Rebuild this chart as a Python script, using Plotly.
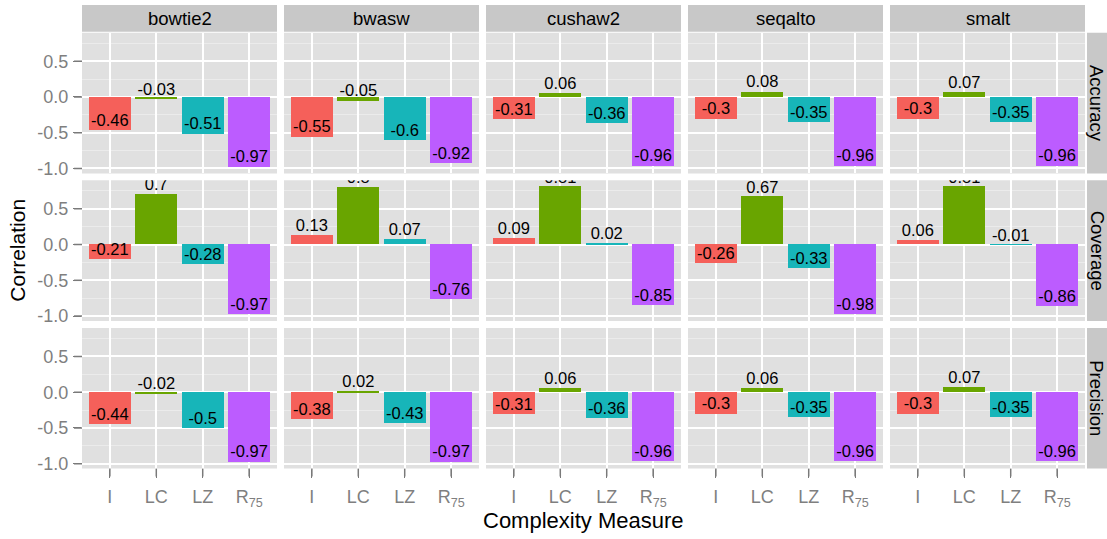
import plotly.graph_objects as go

# Correlation of each complexity measure with aligner performance
aligners = ["bowtie2", "bwasw", "cushaw2", "seqalto", "smalt"]
metrics = ["Accuracy", "Coverage", "Precision"]
measures = ["I", "LC", "LZ", "R<sub>75</sub>"]
bar_colors = ["#F5605A", "#69A500", "#17B5B9", "#BC5CFF"]
y_ticks = [-1.0, -0.5, 0.0, 0.5]
y_ticktext = ["-1.0", "-0.5", "0.0", "0.5"]

bowtie2_accuracy = [-0.46, -0.03, -0.51, -0.97]
bowtie2_coverage = [-0.21, 0.7, -0.28, -0.97]
bowtie2_precision = [-0.44, -0.02, -0.5, -0.97]

bwasw_accuracy = [-0.55, -0.05, -0.6, -0.92]
bwasw_coverage = [0.13, 0.8, 0.07, -0.76]
bwasw_precision = [-0.38, 0.02, -0.43, -0.97]

cushaw2_accuracy = [-0.31, 0.06, -0.36, -0.96]
cushaw2_coverage = [0.09, 0.81, 0.02, -0.85]
cushaw2_precision = [-0.31, 0.06, -0.36, -0.96]

seqalto_accuracy = [-0.3, 0.08, -0.35, -0.96]
seqalto_coverage = [-0.26, 0.67, -0.33, -0.98]
seqalto_precision = [-0.3, 0.06, -0.35, -0.96]

smalt_accuracy = [-0.3, 0.07, -0.35, -0.96]
smalt_coverage = [0.06, 0.81, -0.01, -0.86]
smalt_precision = [-0.3, 0.07, -0.35, -0.96]

values = {
    "bowtie2": [bowtie2_accuracy, bowtie2_coverage, bowtie2_precision],
    "bwasw": [bwasw_accuracy, bwasw_coverage, bwasw_precision],
    "cushaw2": [cushaw2_accuracy, cushaw2_coverage, cushaw2_precision],
    "seqalto": [seqalto_accuracy, seqalto_coverage, seqalto_precision],
    "smalt": [smalt_accuracy, smalt_coverage, smalt_precision],
}

W, H = 1107, 539
FONT = "Liberation Sans, Arial, Helvetica, sans-serif"
GREY_TXT = "#7F7F7F"
TICK_GREY = "#7A7A7A"
TICK_LEN = 8

# panel geometry in pixels
col_left0, col_w, gap = 82, 195, 7
row_top0, row_h = 33, 142
strip_top, strip_bottom = 5, 32
rstrip_left, rstrip_right = 1087, 1107

all_vals = [v for a in aligners for m in values[a] for v in m]
lo, hi = min(all_vals), max(all_vals)
pad = 0.05 * (hi - lo)
yrange = [lo - pad, hi + pad]
positions = [1, 2, 3, 4]

fig = go.Figure()
layout = {}
shapes = []
annotations = []

for r, metric in enumerate(metrics):
    top = row_top0 + r * (row_h + gap)
    bottom = top + row_h
    ydom = [1 - bottom / H, 1 - top / H]
    for c, aligner in enumerate(aligners):
        left = col_left0 + c * (col_w + gap)
        right = left + col_w
        xdom = [left / W, right / W]
        idx = r * len(aligners) + c + 1
        xname = "xaxis" if idx == 1 else f"xaxis{idx}"
        yname = "yaxis" if idx == 1 else f"yaxis{idx}"
        xref = "x" if idx == 1 else f"x{idx}"
        yref = "y" if idx == 1 else f"y{idx}"
        vals = values[aligner][r]

        fig.add_trace(go.Bar(
            x=positions, y=vals, width=0.9, xaxis=xref, yaxis=yref,
            marker=dict(color=bar_colors, line=dict(width=0)),
            showlegend=False, hoverinfo="skip",
        ))
        fig.add_trace(go.Scatter(
            x=positions, y=vals, xaxis=xref, yaxis=yref, mode="text",
            text=[f"{v:g}" for v in vals], textposition="top center",
            textfont=dict(family=FONT, size=16.5, color="black"),
            showlegend=False, hoverinfo="skip", cliponaxis=True,
        ))

        bottom_row = r == len(metrics) - 1
        left_col = c == 0
        layout[xname] = dict(
            domain=xdom, anchor=yref, range=[0.4, 4.6],
            tickvals=positions, ticktext=measures,
            showticklabels=bottom_row,
            ticks="outside" if bottom_row else "", ticklen=TICK_LEN,
            tickwidth=1, tickcolor=TICK_GREY, ticklabelstandoff=4,
            tickfont=dict(family=FONT, size=18, color=GREY_TXT),
            showgrid=True, gridcolor="white", gridwidth=1.5,
            zeroline=False, showline=False, fixedrange=True,
        )
        layout[yname] = dict(
            domain=ydom, anchor=xref, range=yrange,
            tickvals=y_ticks, ticktext=y_ticktext,
            showticklabels=left_col,
            ticks="outside" if left_col else "", ticklen=TICK_LEN,
            tickwidth=1, tickcolor=TICK_GREY, ticklabelstandoff=1,
            tickfont=dict(family=FONT, size=18, color=GREY_TXT),
            showgrid=True, gridcolor="white", gridwidth=1.5,
            minor=dict(tickvals=[-0.75, -0.25, 0.25, 0.75], showgrid=True,
                       gridcolor="#EBEBEB", gridwidth=1),
            zeroline=False, showline=False, fixedrange=True,
        )
        # panel background
        shapes.append(dict(
            type="rect", xref="paper", yref="paper", layer="below",
            x0=xdom[0], x1=xdom[1], y0=ydom[0], y1=ydom[1],
            fillcolor="#E0E0E0", line=dict(width=0),
        ))
        # tick marks along the outer panel edges
        if left_col:
            for tv in y_ticks:
                shapes.append(dict(
                    type="line", xref="paper", yref=yref, layer="above",
                    x0=(left - TICK_LEN) / W, x1=left / W, y0=tv, y1=tv,
                    line=dict(color=TICK_GREY, width=1.5),
                ))
        if bottom_row:
            for p in positions:
                shapes.append(dict(
                    type="line", xref=xref, yref="paper", layer="above",
                    x0=p, x1=p, y0=1 - bottom / H,
                    y1=1 - (bottom + TICK_LEN) / H,
                    line=dict(color=TICK_GREY, width=1.5),
                ))

        if r == 0:
            shapes.append(dict(
                type="rect", xref="paper", yref="paper", layer="below",
                x0=xdom[0], x1=xdom[1],
                y0=1 - strip_bottom / H, y1=1 - strip_top / H,
                fillcolor="#C8C8C8", line=dict(width=0),
            ))
            annotations.append(dict(
                text=aligner, xref="paper", yref="paper", showarrow=False,
                x=(xdom[0] + xdom[1]) / 2,
                y=1 - (strip_top + strip_bottom) / 2 / H,
                xanchor="center", yanchor="middle",
                font=dict(family=FONT, size=18.5, color="black"),
            ))

    shapes.append(dict(
        type="rect", xref="paper", yref="paper", layer="below",
        x0=rstrip_left / W, x1=rstrip_right / W, y0=ydom[0], y1=ydom[1],
        fillcolor="#C8C8C8", line=dict(width=0),
    ))
    annotations.append(dict(
        text=metric, xref="paper", yref="paper", showarrow=False,
        x=(rstrip_left + rstrip_right) / 2 / W, y=(ydom[0] + ydom[1]) / 2,
        xanchor="center", yanchor="middle", textangle=90,
        font=dict(family=FONT, size=18.5, color="black"),
    ))

# axis titles
annotations.append(dict(
    text="Complexity Measure", xref="paper", yref="paper", showarrow=False,
    x=(col_left0 + (col_left0 + 5 * col_w + 4 * gap)) / 2 / W, y=1 - 525 / H,
    xanchor="center", yanchor="middle",
    font=dict(family=FONT, size=22, color="black"),
))
annotations.append(dict(
    text="Correlation", xref="paper", yref="paper", showarrow=False,
    x=18 / W, y=1 - 253 / H, xanchor="center", yanchor="middle",
    textangle=-90, font=dict(family=FONT, size=21, color="black"),
))

fig.update_layout(
    width=W, height=H, margin=dict(l=0, r=0, t=0, b=0),
    paper_bgcolor="white", plot_bgcolor="rgba(0,0,0,0)",
    shapes=shapes, annotations=annotations, bargap=0,
    font=dict(family=FONT), showlegend=False,
    **layout,
)

fig.write_html("out.html")
